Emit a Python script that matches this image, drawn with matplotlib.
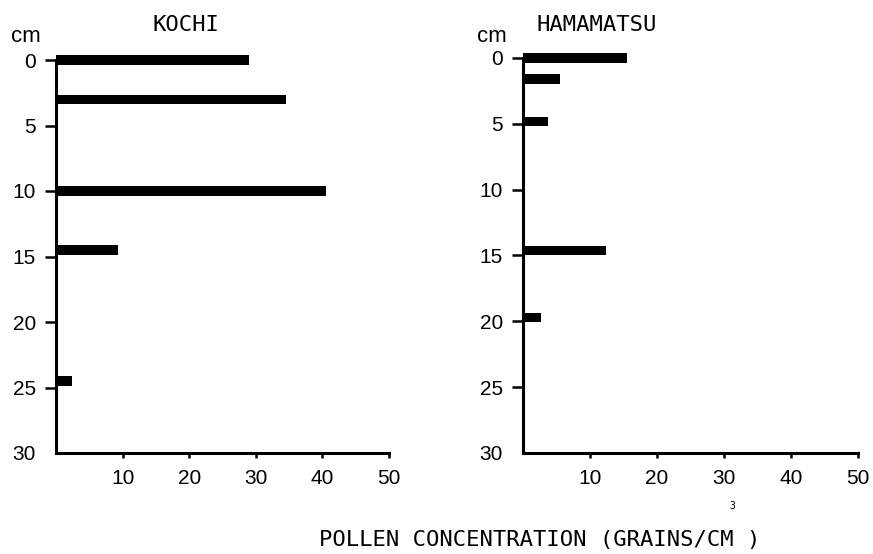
import matplotlib
matplotlib.use("Agg")
import matplotlib.pyplot as plt

# Data (depth in cm, pollen concentration in grains/cm^3)
kochi_depth = [0, 3, 10, 14.5, 24.5]
kochi_values = [29, 34.5, 40.5, 9.3, 2.4]
hama_depth = [0, 1.6, 4.8, 14.6, 19.7]
hama_values = [15.5, 5.5, 3.7, 12.4, 2.7]
titles = ["KOCHI", "HAMAMATSU"]
y_ticks = [0, 5, 10, 15, 20, 25, 30]
x_ticks = [10, 20, 30, 40, 50]

W, H = 873, 554
fig = plt.figure(figsize=(W / 100, H / 100), dpi=100)
fig.patch.set_facecolor("white")

def fx(px):
    return px / W

def fy(py):
    return 1 - py / H

panels = [
    (kochi_depth, kochi_values, titles[0], (56, 60, 389, 453), (186, 25), (26, 37)),
    (hama_depth, hama_values, titles[1], (523, 58, 858, 453), (597, 25), (492, 37)),
]

num_font = ["Liberation Sans", "DejaVu Sans"]
mono_font = ["DejaVu Sans Mono"]

for depth, vals, title, (x0, y0, x1, y1), tpos, cmpos in panels:
    ax = fig.add_axes([fx(x0), fy(y1), fx(x1 - x0), (y1 - y0) / H])
    ax.barh(depth, vals, height=0.7, color="black", left=0, clip_on=False, zorder=3)
    ax.set_xlim(0, 50)
    ax.set_ylim(30, 0)
    for s in ["top", "right"]:
        ax.spines[s].set_visible(False)
    for s in ["left", "bottom"]:
        ax.spines[s].set_linewidth(2.2)
        ax.spines[s].set_color("black")
    ax.set_yticks(y_ticks)
    ax.set_yticklabels([str(v) for v in y_ticks], fontsize=15, family=num_font)
    ax.set_xticks(x_ticks)
    ax.set_xticklabels([str(v) for v in x_ticks], fontsize=15, family=num_font)
    ax.tick_params(axis="y", length=8, width=1.8, pad=6.5, direction="out")
    ax.tick_params(axis="x", length=3.5, width=1.8, pad=8, direction="out")
    ax.yaxis.get_major_ticks()[-1].tick1line.set_visible(False)
    ax.set_facecolor("none")
    fig.text(fx(tpos[0]), fy(tpos[1]), title, ha="center", va="center",
             fontsize=16, family=mono_font)
    fig.text(fx(cmpos[0]), fy(cmpos[1]), "cm", ha="center", va="center",
             fontsize=16, family=num_font)

fig.text(fx(540), fy(540), "POLLEN CONCENTRATION (GRAINS/CM )", ha="center",
         va="center", fontsize=16, family=mono_font)
fig.text(fx(732), fy(506), "3", ha="center", va="center", fontsize=7,
         family=mono_font)

fig.savefig("out.png", dpi=100, facecolor="white")
